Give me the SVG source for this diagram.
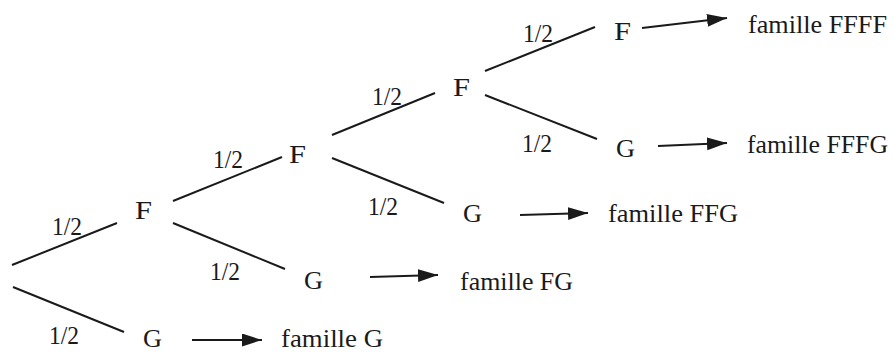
<svg xmlns="http://www.w3.org/2000/svg" width="893" height="353" viewBox="0 0 893 353">
<style>
text{font-family:"Liberation Serif","Times New Roman",serif;font-size:25px;fill:#1a1a1a}
.e{stroke:#1a1a1a;stroke-width:2;fill:none}
.a{stroke:#1a1a1a;stroke-width:2;fill:none;marker-end:url(#ah)}
</style>
<defs>
<marker id="ah" markerUnits="userSpaceOnUse" markerWidth="22" markerHeight="14" refX="20" refY="6.5" orient="auto">
<path d="M0,0 L20,6.5 L0,13 Z" fill="#1a1a1a"/>
</marker>
</defs>
<rect width="893" height="353" fill="#fff"/>
<g id="connectors">
<line class="e" x1="12" y1="265" x2="117" y2="223"/>
<line class="e" x1="13" y1="287" x2="124" y2="332"/>
<line class="e" x1="173" y1="201" x2="282" y2="157"/>
<line class="e" x1="173" y1="223" x2="285" y2="269"/>
<line class="e" x1="332" y1="135" x2="435" y2="93"/>
<line class="e" x1="332" y1="158" x2="444" y2="203"/>
<line class="e" x1="485" y1="71" x2="595" y2="27"/>
<line class="e" x1="485" y1="95" x2="597" y2="139"/>
<line class="a" x1="642" y1="28" x2="727" y2="18"/>
<line class="a" x1="658" y1="146" x2="727" y2="143"/>
<line class="a" x1="520" y1="215" x2="588" y2="213"/>
<line class="a" x1="370" y1="277" x2="438" y2="275"/>
<line class="a" x1="192" y1="340" x2="262" y2="340"/>
<text x="52" y="235" textLength="30" lengthAdjust="spacingAndGlyphs">1/2</text>
<text x="49" y="344" textLength="30" lengthAdjust="spacingAndGlyphs">1/2</text>
<text x="210" y="280" textLength="30" lengthAdjust="spacingAndGlyphs">1/2</text>
<text x="213" y="168" textLength="30" lengthAdjust="spacingAndGlyphs">1/2</text>
<text x="372" y="105" textLength="30" lengthAdjust="spacingAndGlyphs">1/2</text>
<text x="368" y="215" textLength="30" lengthAdjust="spacingAndGlyphs">1/2</text>
<text x="522" y="152" textLength="30" lengthAdjust="spacingAndGlyphs">1/2</text>
<text x="523" y="42" textLength="30" lengthAdjust="spacingAndGlyphs">1/2</text>
</g>
<g id="F1"><text x="135" y="219" textLength="17" lengthAdjust="spacingAndGlyphs">F</text></g>
<g id="G1"><text x="143" y="347" textLength="19" lengthAdjust="spacingAndGlyphs">G</text></g>
<g id="F2"><text x="289" y="163" textLength="17" lengthAdjust="spacingAndGlyphs">F</text></g>
<g id="G2"><text x="304" y="289" textLength="19" lengthAdjust="spacingAndGlyphs">G</text></g>
<g id="F3"><text x="453" y="96" textLength="17" lengthAdjust="spacingAndGlyphs">F</text></g>
<g id="G3"><text x="463" y="222" textLength="19" lengthAdjust="spacingAndGlyphs">G</text></g>
<g id="F4"><text x="614" y="40" textLength="17" lengthAdjust="spacingAndGlyphs">F</text></g>
<g id="G4"><text x="616" y="157" textLength="19" lengthAdjust="spacingAndGlyphs">G</text></g>
<g id="famFFFF"><text x="748" y="33" textLength="139" lengthAdjust="spacingAndGlyphs">famille FFFF</text></g>
<g id="famFFFG"><text x="747" y="153" textLength="141" lengthAdjust="spacingAndGlyphs">famille FFFG</text></g>
<g id="famFFG"><text x="608" y="222" textLength="130" lengthAdjust="spacingAndGlyphs">famille FFG</text></g>
<g id="famFG"><text x="460" y="290" textLength="113" lengthAdjust="spacingAndGlyphs">famille FG</text></g>
<g id="famG"><text x="281" y="347" textLength="102" lengthAdjust="spacingAndGlyphs">famille G</text></g>
</svg>
